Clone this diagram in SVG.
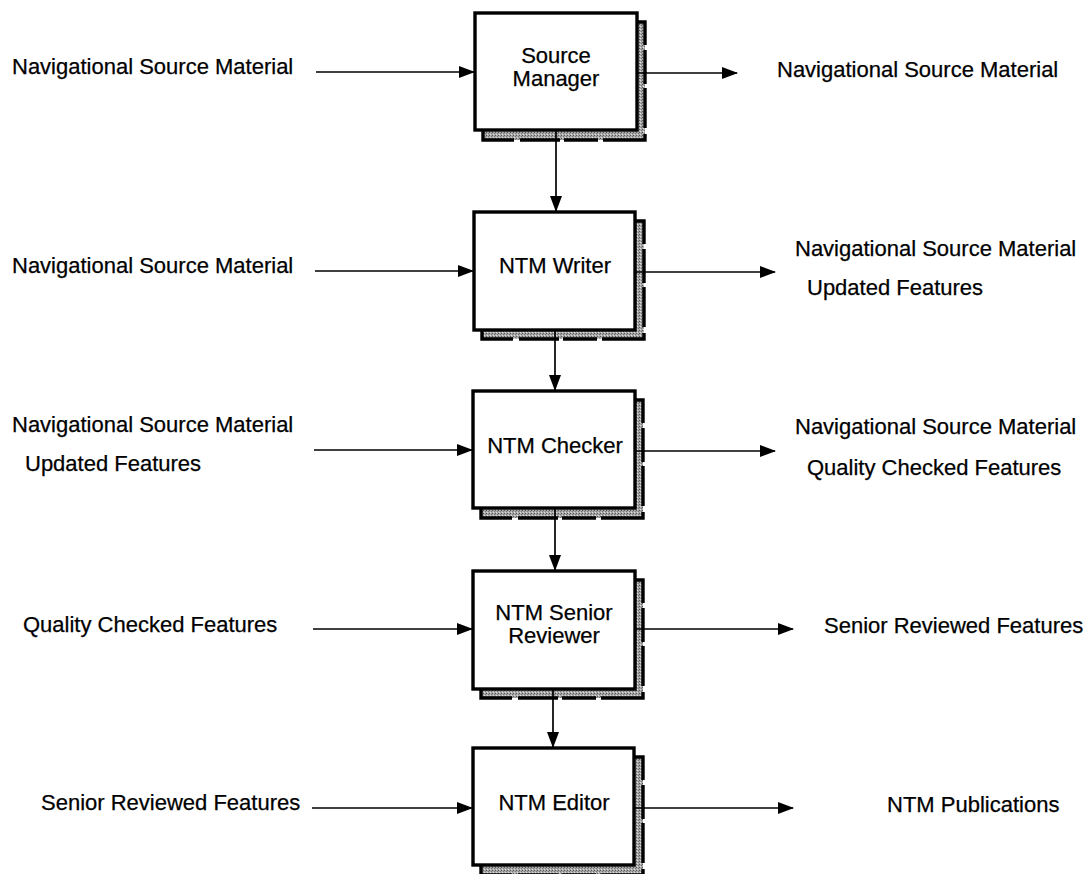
<svg xmlns="http://www.w3.org/2000/svg" width="1090" height="874" viewBox="0 0 1090 874">
  <style>
    .lbl { font-family: "Liberation Sans", Arial, sans-serif; font-size: 22px; fill: #000; stroke: #000; stroke-width: 0.25; }
    .mid { text-anchor: middle; }
    .box { fill: #ffffff; stroke: #000; stroke-width: 3.4; }
    .shadow { fill: url(#stipple); stroke: #000; stroke-width: 3.4; stroke-dasharray: 48 5 34 4 40 6; }
    .flow { stroke: #000; stroke-width: 1.7; fill: none; marker-end: url(#head); }
  </style>
  <defs>
    <pattern id="stipple" width="3" height="3" patternUnits="userSpaceOnUse">
      <rect width="3" height="3" fill="#a8a8a8"/>
      <rect x="0" y="0" width="1" height="1" fill="#555"/>
      <rect x="2" y="1" width="1" height="1" fill="#777"/>
      <rect x="1" y="2" width="1" height="1" fill="#dedede"/>
    </pattern>
    <marker id="head" markerWidth="16" markerHeight="12" refX="15" refY="6" orient="auto" markerUnits="userSpaceOnUse">
      <path d="M0,0 L16,6 L0,12 Z" fill="#000"/>
    </marker>
  </defs>

  <!-- process boxes -->
  <g id="source-manager">
    <rect class="shadow" x="483" y="22" width="162" height="118"/>
    <rect class="box" x="475" y="13" width="162" height="117"/>
    <text class="lbl mid" x="556" y="63">Source</text>
    <text class="lbl mid" x="556" y="86">Manager</text>
  </g>
  <g id="ntm-writer">
    <rect class="shadow" x="482" y="221" width="162" height="118"/>
    <rect class="box" x="474" y="212" width="161" height="118"/>
    <text class="lbl mid" x="555" y="273">NTM Writer</text>
  </g>
  <g id="ntm-checker">
    <rect class="shadow" x="481" y="400" width="162" height="118"/>
    <rect class="box" x="473" y="391" width="162" height="117"/>
    <text class="lbl mid" x="555" y="453">NTM Checker</text>
  </g>
  <g id="ntm-senior-reviewer">
    <rect class="shadow" x="481" y="580" width="162" height="118"/>
    <rect class="box" x="473" y="571" width="162" height="118"/>
    <text class="lbl mid" x="554" y="620">NTM Senior</text>
    <text class="lbl mid" x="554" y="643">Reviewer</text>
  </g>
  <g id="ntm-editor">
    <rect class="shadow" x="481" y="757" width="162" height="118"/>
    <rect class="box" x="473" y="748" width="161" height="117"/>
    <text class="lbl mid" x="554" y="810">NTM Editor</text>
  </g>

  <!-- flow labels -->
  <g id="labels">
    <text class="lbl" x="12" y="74">Navigational Source Material</text>
    <text class="lbl" x="777" y="77">Navigational Source Material</text>

    <text class="lbl" x="12" y="273">Navigational Source Material</text>
    <text class="lbl" x="795" y="256">Navigational Source Material</text>
    <text class="lbl" x="807" y="295">Updated Features</text>

    <text class="lbl" x="12" y="432">Navigational Source Material</text>
    <text class="lbl" x="25" y="471">Updated Features</text>
    <text class="lbl" x="795" y="434">Navigational Source Material</text>
    <text class="lbl" x="807" y="475">Quality Checked Features</text>

    <text class="lbl" x="23" y="632">Quality Checked Features</text>
    <text class="lbl" x="824" y="633">Senior Reviewed Features</text>

    <text class="lbl" x="41" y="810">Senior Reviewed Features</text>
    <text class="lbl" x="887" y="812">NTM Publications</text>
  </g>

  <!-- connectors -->
  <g id="connectors">
    <line class="flow" x1="316" y1="72" x2="474" y2="72"/>
    <line class="flow" x1="637" y1="73" x2="737" y2="73"/>
    <line class="flow" x1="556" y1="131" x2="556" y2="211"/>

    <line class="flow" x1="315" y1="271" x2="473" y2="271"/>
    <line class="flow" x1="636" y1="272" x2="775" y2="272"/>
    <line class="flow" x1="555" y1="331" x2="555" y2="390"/>

    <line class="flow" x1="314" y1="450" x2="472" y2="450"/>
    <line class="flow" x1="636" y1="451" x2="775" y2="451"/>
    <line class="flow" x1="555" y1="509" x2="555" y2="570"/>

    <line class="flow" x1="313" y1="629" x2="472" y2="629"/>
    <line class="flow" x1="636" y1="629" x2="793" y2="629"/>
    <line class="flow" x1="553" y1="690" x2="553" y2="747"/>

    <line class="flow" x1="312" y1="808" x2="472" y2="808"/>
    <line class="flow" x1="635" y1="808" x2="793" y2="808"/>
  </g>
</svg>
